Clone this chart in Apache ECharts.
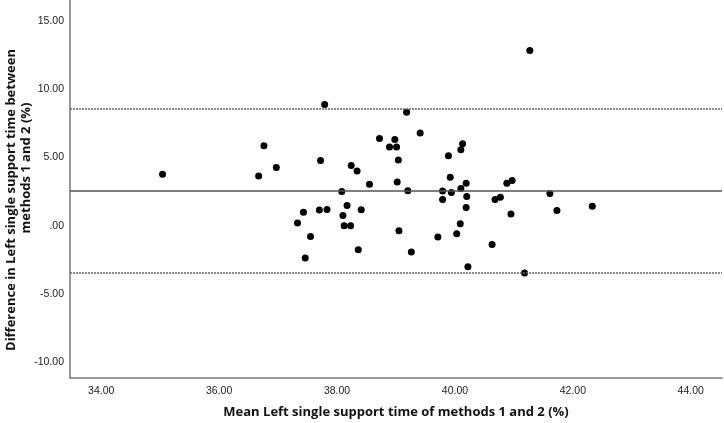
<!DOCTYPE html>
<html>
<head>
<meta charset="utf-8">
<script src="https://cdn.jsdelivr.net/npm/echarts@6/dist/echarts.min.js"></script>
<style>
  html, body { margin: 0; padding: 0; background: #fff; }
  #chart { width: 724px; height: 423px; }
</style>
</head>
<body>
<div id="chart"></div>
<script>
// Mean of the two methods (x) and their difference (y)
const meanValues = [
    35.04, 36.76, 36.97, 36.67, 37.79, 37.72, 38.24, 38.34, 38.55, 38.72,
    38.98, 38.89, 39.01, 39.04, 39.18, 39.41, 39.02, 39.20, 38.08, 38.17,
    38.10, 38.12, 38.23, 38.41, 37.70, 37.83, 37.43, 37.33, 37.55, 37.46,
    38.36, 39.05, 39.26, 39.89, 40.13, 40.10, 39.92, 40.19, 40.10, 39.79,
    39.94, 39.79, 40.20, 40.19, 40.09, 40.03, 39.71, 40.63, 40.22, 41.18,
    40.88, 40.97, 40.68, 40.77, 40.95, 41.61, 41.73, 42.33, 41.27
];
const diffValues = [
    3.77, 5.84, 4.25, 3.63, 8.86, 4.77, 4.40, 4.01, 3.04, 6.37,
    6.30, 5.75, 5.75, 4.80, 8.30, 6.79, 3.19, 2.55, 2.50, 1.48,
    0.75, -0.01, -0.01, 1.16, 1.14, 1.18, 0.99, 0.19, -0.79, -2.37,
    -1.76, -0.37, -1.93, 5.11, 5.99, 5.55, 3.55, 3.11, 2.72, 2.53,
    2.43, 1.92, 2.13, 1.33, 0.14, -0.59, -0.83, -1.37, -3.00, -3.46,
    3.11, 3.30, 1.92, 2.09, 0.85, 2.35, 1.11, 1.43, 12.81
];

// Bias and limits of agreement
const meanDiff = 2.55;
const upperLimit = 8.55;
const lowerLimit = -3.45;

const xTicks = [34, 36, 38, 40, 42, 44];
const yTicks = [-10, -5, 0, 5, 10, 15];

const xTitle = 'Mean Left single support time of methods 1 and 2 (%)';
const yTitleLines = ['Difference in Left single support time between', 'methods 1 and 2 (%)'];

const fmt = (v) => {
    const s = Number(v).toFixed(2);
    return s === '0.00' ? '.00' : s;
};

const chart = echarts.init(document.getElementById('chart'));

const labelStyle = {
    fontFamily: '"Liberation Sans Narrow", "Liberation Sans", Arial, sans-serif',
    fontSize: 10.5,
    color: '#222'
};
const titleFont = 'bold 13px "Open Sans", "Noto Sans", sans-serif';

// y title is two separate lines, SPSS does not center them on each other
const yTitleText = (text, x, y) => ({
    type: 'text',
    x: x,
    y: y,
    rotation: Math.PI / 2,
    style: {
        text: text,
        font: titleFont,
        fill: '#111',
        align: 'center',
        verticalAlign: 'middle'
    }
});

chart.setOption({
    animation: false,
    grid: { left: 70, right: 2, top: 0, bottom: 45, containLabel: false, outerBoundsMode: 'none' },
    graphic: [
        yTitleText(yTitleLines[0], 11, 200),
        yTitleText(yTitleLines[1], 26, 168)
    ],
    xAxis: {
        type: 'value',
        min: 33.47,
        max: 44.53,
        name: xTitle,
        nameLocation: 'middle',
        nameGap: 28,
        nameTextStyle: {
            fontFamily: '"Open Sans", "Noto Sans", sans-serif',
            fontWeight: 'bold',
            fontSize: 13,
            color: '#111'
        },
        axisLine: { show: true, onZero: false, lineStyle: { color: '#777', width: 1.5 } },
        axisTick: { show: false },
        splitLine: { show: false },
        axisLabel: Object.assign({
            customValues: xTicks,
            formatter: fmt,
            margin: 8
        }, labelStyle)
    },
    yAxis: {
        type: 'value',
        min: -11.14,
        max: 16.51,
        axisLine: { show: true, onZero: false, lineStyle: { color: '#777', width: 1.5 } },
        axisTick: { show: false },
        splitLine: { show: false },
        axisLabel: Object.assign({
            customValues: yTicks,
            formatter: fmt,
            margin: 6
        }, labelStyle)
    },
    series: [{
        type: 'scatter',
        symbolSize: 7,
        itemStyle: { color: '#000', opacity: 1 },
        data: meanValues.map((m, i) => [m, diffValues[i]]),
        markLine: {
            silent: true,
            symbol: 'none',
            label: { show: false },
            data: [
                { yAxis: meanDiff, lineStyle: { type: 'solid', color: '#555', width: 1.5 } },
                { yAxis: upperLimit, lineStyle: { type: [2, 1], color: '#666', width: 1.5 } },
                { yAxis: lowerLimit, lineStyle: { type: [2, 1], color: '#666', width: 1.5 } }
            ]
        },
        z: 3
    }]
});
</script>
</body>
</html>
